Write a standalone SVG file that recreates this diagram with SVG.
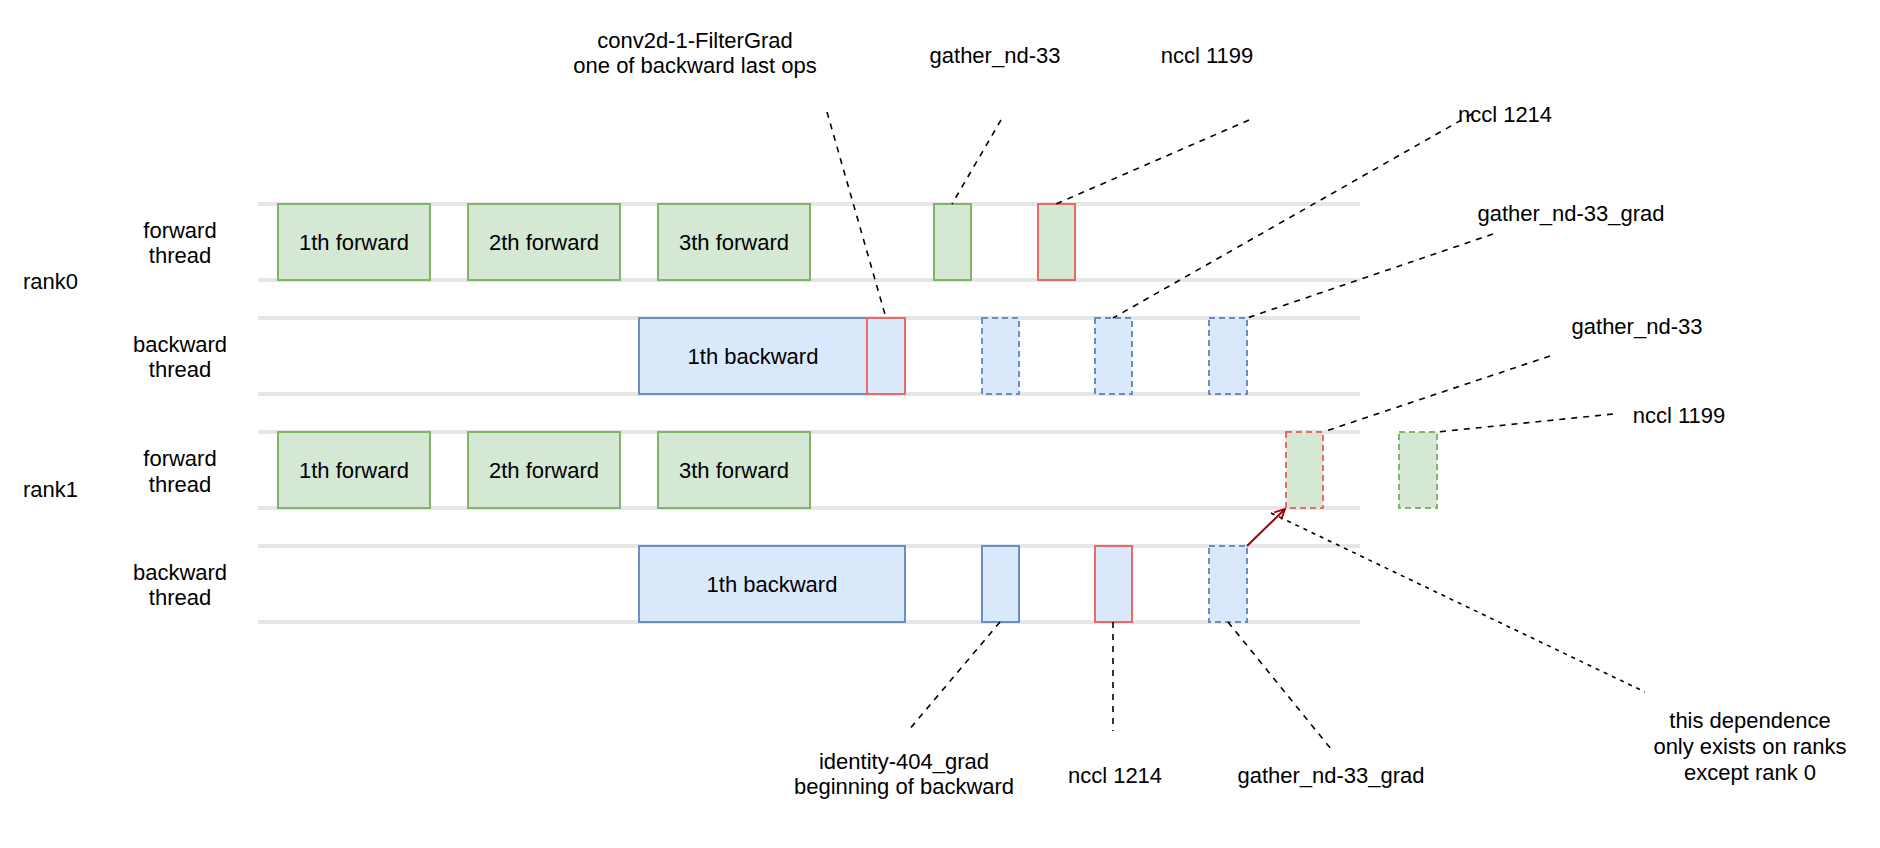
<svg xmlns="http://www.w3.org/2000/svg" width="1880" height="848" viewBox="0 0 1880 848">
<defs>
<style>
text{font-family:"Liberation Sans",Arial,Helvetica,sans-serif;font-size:22px;fill:#000;text-anchor:middle}
.lane{stroke:#e6e6e6;stroke-width:4;fill:none}
.g{fill:#d5e8d4;stroke:#82b366;stroke-width:2}
.b{fill:#dae8fc;stroke:#6c8ebf;stroke-width:2}
.gr{fill:#d5e8d4;stroke:#ea6b66;stroke-width:2}
.br{fill:#dae8fc;stroke:#ea6b66;stroke-width:2}
.d{stroke-dasharray:6 4}
.lead{stroke:#000;stroke-width:1.6;fill:none;stroke-dasharray:6 6}
.dot{stroke:#000;stroke-width:1.6;fill:none;stroke-dasharray:4 5}
</style>
<marker id="ah" viewBox="0 0 12 12" refX="11" refY="6" markerWidth="12" markerHeight="12" markerUnits="userSpaceOnUse" orient="auto">
<path d="M1,1 L11,6 L1,11" fill="none" stroke="#990000" stroke-width="1.8"/>
</marker>
</defs>
<rect width="1880" height="848" fill="#fff"/>
<g id="lanes">
<line class="lane" x1="258" y1="204" x2="1360" y2="204"/>
<line class="lane" x1="258" y1="280" x2="1360" y2="280"/>
<line class="lane" x1="258" y1="318" x2="1360" y2="318"/>
<line class="lane" x1="258" y1="394" x2="1360" y2="394"/>
<line class="lane" x1="258" y1="432" x2="1360" y2="432"/>
<line class="lane" x1="258" y1="508" x2="1360" y2="508"/>
<line class="lane" x1="258" y1="546" x2="1360" y2="546"/>
<line class="lane" x1="258" y1="622" x2="1360" y2="622"/>
</g>
<g id="labels-left">
<text x="50" y="289" text-anchor="start" style="text-anchor:start" transform="translate(-27,0)">rank0</text>
<text x="50" y="497" style="text-anchor:start" transform="translate(-27,0)">rank1</text>
<text x="180" y="238">forward</text><text x="180" y="263">thread</text>
<text x="180" y="352">backward</text><text x="180" y="377">thread</text>
<text x="180" y="466">forward</text><text x="180" y="492">thread</text>
<text x="180" y="580">backward</text><text x="180" y="605">thread</text>
</g>
<g id="r0-fwd1"><rect class="g" x="278" y="204" width="152" height="76"/><text x="354" y="250">1th forward</text></g>
<g id="r0-fwd2"><rect class="g" x="468" y="204" width="152" height="76"/><text x="544" y="250">2th forward</text></g>
<g id="r0-fwd3"><rect class="g" x="658" y="204" width="152" height="76"/><text x="734" y="250">3th forward</text></g>
<g id="r0-gather"><rect class="g" x="934" y="204" width="37" height="76"/></g>
<g id="r0-nccl1199"><rect class="gr" x="1038" y="204" width="37" height="76"/></g>
<g id="r0-bwd1"><rect class="b" x="639" y="318" width="228" height="76"/><text x="753" y="364">1th backward</text></g>
<g id="r0-conv2d"><rect class="br" x="867" y="318" width="38" height="76"/></g>
<g id="r0-b1"><rect class="b d" x="982" y="318" width="37" height="76"/></g>
<g id="r0-b2"><rect class="b d" x="1095" y="318" width="37" height="76"/></g>
<g id="r0-b3"><rect class="b d" x="1209" y="318" width="38" height="76"/></g>
<g id="r1-fwd1"><rect class="g" x="278" y="432" width="152" height="76"/><text x="354" y="478">1th forward</text></g>
<g id="r1-fwd2"><rect class="g" x="468" y="432" width="152" height="76"/><text x="544" y="478">2th forward</text></g>
<g id="r1-fwd3"><rect class="g" x="658" y="432" width="152" height="76"/><text x="734" y="478">3th forward</text></g>
<g id="r1-gather"><rect class="gr d" x="1286" y="432" width="37" height="76"/></g>
<g id="r1-nccl1199"><rect class="g d" x="1399" y="432" width="38" height="76"/></g>
<g id="r1-bwd1"><rect class="b" x="639" y="546" width="266" height="76"/><text x="772" y="592">1th backward</text></g>
<g id="r1-identity"><rect class="b" x="982" y="546" width="37" height="76"/></g>
<g id="r1-nccl1214"><rect class="br" x="1095" y="546" width="37" height="76"/></g>
<g id="r1-gathergrad"><rect class="b d" x="1209" y="546" width="38" height="76"/></g>
<g id="connectors">
<line class="lead" x1="827" y1="112" x2="886" y2="318"/>
<line class="lead" x1="1001" y1="120" x2="952" y2="204"/>
<line class="lead" x1="1249" y1="120" x2="1056" y2="204"/>
<line class="lead" x1="1472" y1="114" x2="1113" y2="318"/>
<line class="lead" x1="1493" y1="234" x2="1247" y2="318"/>
<line class="lead" x1="1550" y1="356" x2="1323" y2="432"/>
<line class="lead" x1="1613" y1="414" x2="1437" y2="432"/>
<line class="lead" x1="1000" y1="622" x2="908" y2="731"/>
<line class="lead" x1="1113" y1="622" x2="1113" y2="731"/>
<line class="lead" x1="1228" y1="622" x2="1331" y2="749"/>
<line class="dot" x1="1271" y1="513" x2="1645" y2="692"/>
<line x1="1247" y1="546" x2="1285" y2="509" stroke="#990000" stroke-width="2" marker-end="url(#ah)"/>
</g>
<g id="annotations">
<text x="695" y="48">conv2d-1-FilterGrad</text>
<text x="695" y="73">one of backward last ops</text>
<text x="995" y="63">gather_nd-33</text>
<text x="1207" y="63">nccl 1199</text>
<text x="1505" y="122">nccl 1214</text>
<text x="1571" y="221">gather_nd-33_grad</text>
<text x="1637" y="334">gather_nd-33</text>
<text x="1679" y="423">nccl 1199</text>
<text x="904" y="769">identity-404_grad</text>
<text x="904" y="794">beginning of backward</text>
<text x="1115" y="783">nccl 1214</text>
<text x="1331" y="783">gather_nd-33_grad</text>
<text x="1750" y="728">this dependence</text>
<text x="1750" y="754">only exists on ranks</text>
<text x="1750" y="780">except rank 0</text>
</g>
</svg>
